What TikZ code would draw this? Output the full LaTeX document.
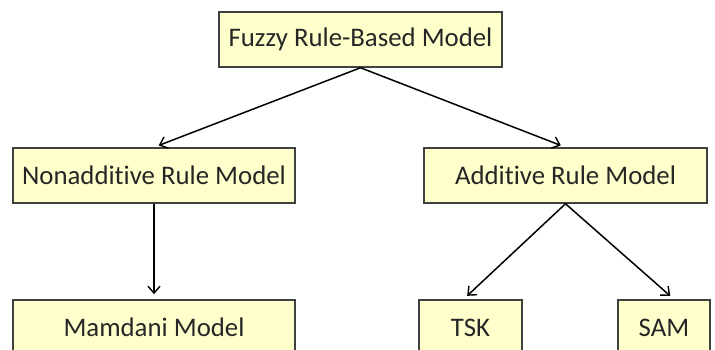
\documentclass[tikz,border=0pt]{standalone}
\usepackage{fontspec}
\setmainfont[Ligatures=NoCommon]{Carlito}
\usetikzlibrary{arrows.meta}
\definecolor{boxfill}{RGB}{255,255,204}
\definecolor{boxline}{RGB}{64,64,64}
\tikzset{
  box/.style={draw=boxline, fill=boxfill, line width=1.5pt, inner sep=0pt,
    minimum height=55pt, font=\fontsize{26.8}{32}\selectfont, text=black!85},
  conn/.style={-{Straight Barb[length=7pt,width=12pt,line width=1.4pt]}, line width=1.5pt, shorten >=5pt}
}
\begin{document}
\begin{tikzpicture}[x=1pt,y=-1pt]
\useasboundingbox (0,0) rectangle (715,349);
\clip (0,0) rectangle (715,349);
\node[box, minimum width=283pt] (top) at (360.5,39.5) {Fuzzy Rule-Based Model};
\node[box, minimum width=282pt] (nonadd) at (154,175.5) {Nonadditive Rule Model};
\node[box, minimum width=283pt] (add) at (565.5,175.5) {Additive Rule Model};
\node[box, minimum width=282pt] (mam) at (154,327.5) {Mamdani Model};
\node[box, minimum width=103pt] (tsk) at (470.5,327.5) {TSK};
\node[box, minimum width=92pt] (sam) at (664,327.5) {SAM};
\draw[conn] (top.south) -- (nonadd.north);
\draw[conn] (top.south) -- (add.north);
\draw[conn] (nonadd.south) -- (mam.north);
\draw[conn] (add.south) -- ([xshift=-7pt]tsk.north);
\draw[conn] (add.south) -- ([xshift=10pt]sam.north);
\end{tikzpicture}
\end{document}
